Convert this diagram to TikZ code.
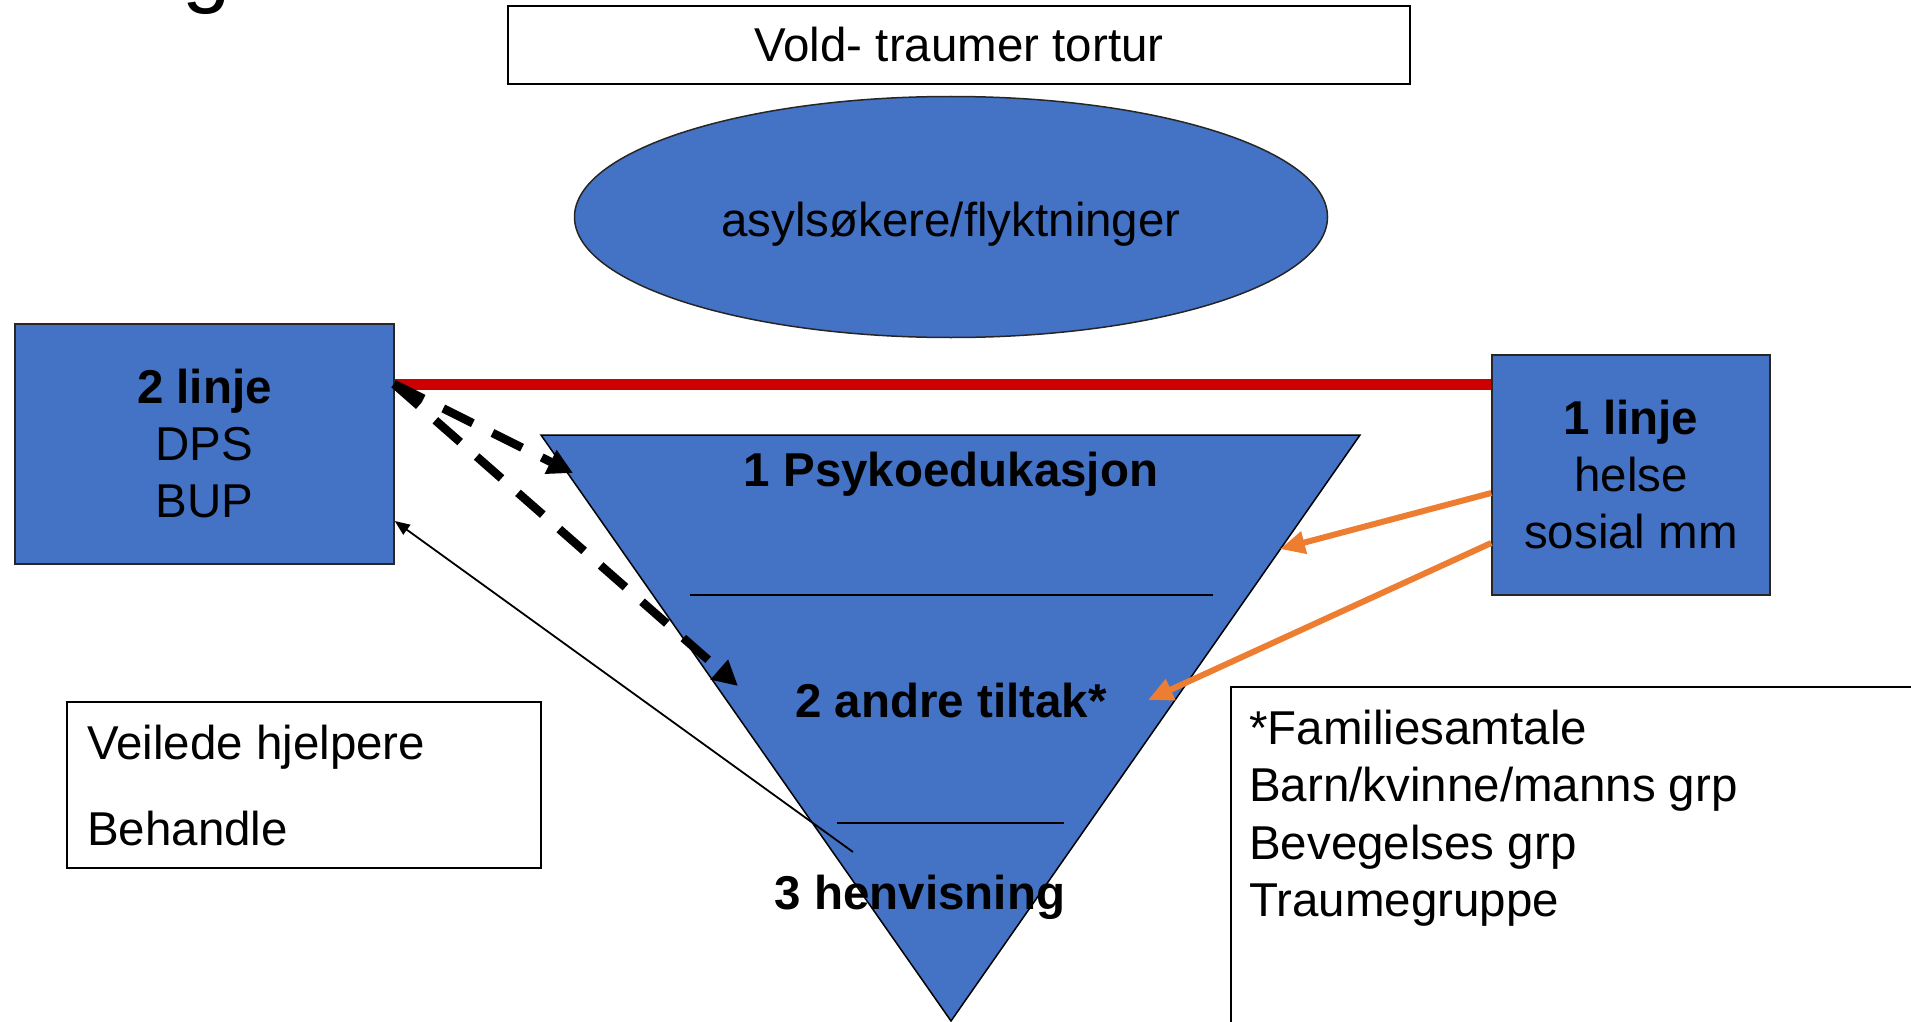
\documentclass[tikz,border=0pt]{standalone}
\usepackage{fontspec}
\setmainfont{Liberation Sans}
\usetikzlibrary{shapes.geometric,arrows.meta}
\definecolor{myblue}{RGB}{68,114,196}
\definecolor{myred}{RGB}{204,0,0}
\definecolor{myorange}{RGB}{237,125,49}
\tikzset{
  txt/.style={font=\fontsize{47.5}{57}\selectfont, inner sep=0pt},
  btxt/.style={font=\bfseries\fontsize{47.5}{57}\selectfont, inner sep=0pt},
  bluebox/.style={draw=black!85, line width=1.5pt, fill=myblue, inner sep=0pt, align=center,
    font=\fontsize{47.5}{57}\selectfont},
  plainbox/.style={draw=black, line width=1.5pt, fill=white, inner sep=0pt},
  tri/.style={draw=black, line width=1.5pt, fill=myblue},
  divider/.style={draw=black, line width=1.8pt},
  redline/.style={draw=myred, line width=11pt},
  dasharrow/.style={draw=black, line width=8.5pt, dash pattern=on 33pt off 22pt,
    -{Triangle[length=25pt,width=25pt]}},
  orangearrow/.style={draw=myorange, line width=6pt, -{Triangle[length=25pt,width=22pt]}},
  thinarrow/.style={draw=black, line width=1.8pt, -{Triangle[length=15pt,width=12pt]}}
}
\begin{document}
\begin{tikzpicture}[x=1pt,y=-1pt]
\useasboundingbox (0,0) rectangle (1911,1022);
\fill[white] (0,0) rectangle (1911,1022);

% partial title glyph
\node[font=\fontsize{87}{100}\selectfont, inner sep=0pt, anchor=base west] (title) at (182,-3) {g};

% top box
\node[plainbox, txt, minimum width=902pt, minimum height=78pt] (vold) at (959,45) {Vold- traumer tortur};

% ellipse
\node[ellipse, draw=black!85, line width=1.5pt, fill=myblue, minimum width=753pt, minimum height=241pt, inner sep=0pt] (asyl) at (951,217) {};
\node[txt, anchor=base] (asyltxt) at (951,236) {asylsøkere/flyktninger};

% side boxes
\node[bluebox, minimum width=379pt, minimum height=240pt] (lb) at (204.5,444) {\textbf{2 linje}\\DPS\\BUP};
\node[bluebox, minimum width=278pt, minimum height=240pt] (rb) at (1631,475) {\textbf{1 linje}\\helse\\sosial mm};

% triangle
\coordinate (T1) at (541,435);
\coordinate (T2) at (1360,435);
\coordinate (T3) at (951,1021);
\draw[tri] (T1) -- (T2) -- (T3) -- cycle;
\coordinate (D1a) at (690,595);
\coordinate (D1b) at (1213,595);
\coordinate (D2a) at (837,823);
\coordinate (D2b) at (1064,823);
\draw[divider] (D1a) -- (D1b);
\draw[divider] (D2a) -- (D2b);

\node[btxt, anchor=base] (psyko) at (951,486) {1 Psykoedukasjon};
\node[btxt, anchor=base] (andre) at (951,717) {2 andre tiltak*};

% red line
\coordinate (redy) at (0,384);
\draw[redline] (lb.east |- redy) -- (rb.west |- redy);

% dashed arrows
\coordinate (dstart) at (394,384);
\coordinate (dtip1) at (573,473);
\coordinate (dtip2) at (738,686);
\draw[dasharrow] (dstart) -- (dtip1);
\draw[dasharrow] (dstart) -- (dtip2);

% thin arrow back to 2 linje
\coordinate (thinstart) at (853,852);
\draw[thinarrow] (thinstart) -- (lb.east |- 0,521);

% orange arrows
\coordinate (otip1) at (1280,549);
\coordinate (otip2) at (1148,700);
\draw[orangearrow] (rb.west |- 0,493) -- (otip1);
\draw[orangearrow] (rb.west |- 0,543) -- (otip2);

\node[btxt, anchor=base] (henv) at (920,909) {3 henvisning};

% Veilede box
\node[plainbox, minimum width=474pt, minimum height=166pt] (veil) at (304,785) {};
\node[txt, anchor=base west] (veil1) at (87,759) {Veilede hjelpere};
\node[txt, anchor=base west] (veil2) at (87,845) {Behandle};

% Familiesamtale box
\node[plainbox, minimum width=720pt, minimum height=380pt, anchor=north west] (fam) at (1230,686) {};
\node[txt, anchor=base west] (fam1) at (1249,744) {*Familiesamtale};
\node[txt, anchor=base west] (fam2) at (1249,801) {Barn/kvinne/manns grp};
\node[txt, anchor=base west] (fam3) at (1249,859) {Bevegelses grp};
\node[txt, anchor=base west] (fam4) at (1249,916) {Traumegruppe};
\end{tikzpicture}
\end{document}
